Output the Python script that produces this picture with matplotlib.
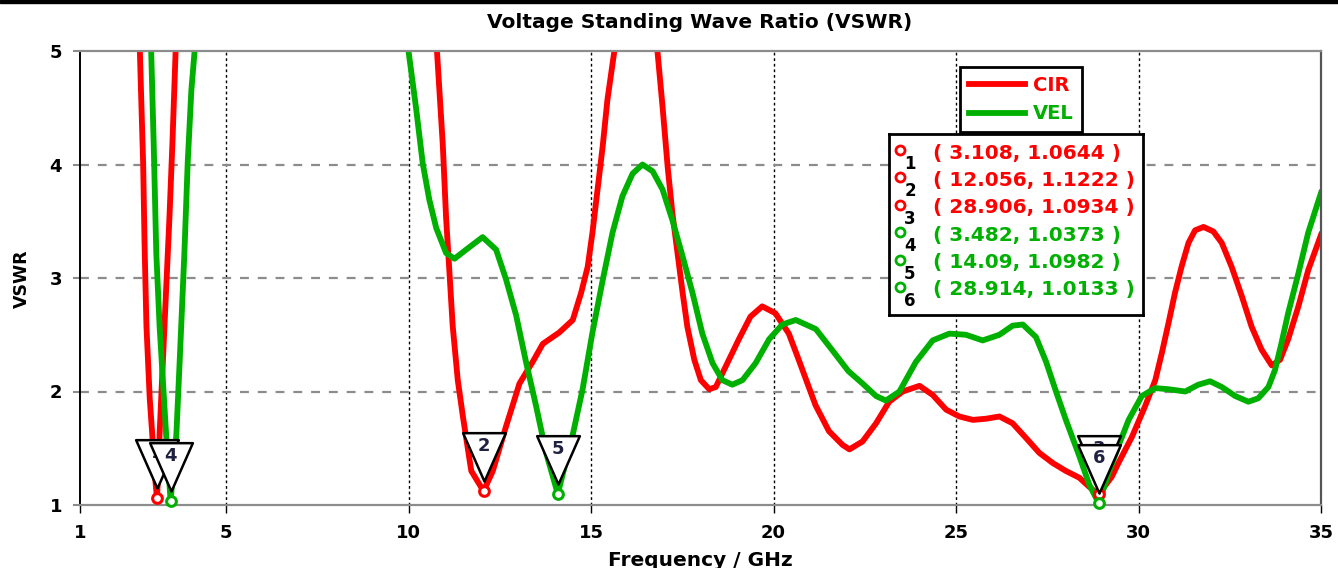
import matplotlib
matplotlib.use("Agg")
import matplotlib.pyplot as plt
from matplotlib.path import Path
from matplotlib.patches import Rectangle

# ------------------------------
# Daten
# ------------------------------
# CIR: Frequenz / GHz und VSWR (Werte > 5 liegen ausserhalb des Bildes)
cir_f = [2.55, 2.64, 2.68, 2.73, 2.77, 2.82, 2.91, 2.98, 3.04, 3.108, 3.15, 3.18,
         3.27, 3.36, 3.45, 3.53, 3.62, 3.68,
         10.70, 10.78, 10.94, 11.03, 11.12, 11.21, 11.35, 11.49, 11.72, 12.056,
         12.31, 12.67, 13.04, 13.40, 13.68, 14.13, 14.50, 14.73, 14.91, 15.04,
         15.18, 15.32, 15.45, 15.64, 16.20, 16.82, 16.96, 17.10, 17.23, 17.37,
         17.51, 17.64, 17.83, 18.01, 18.24, 18.42, 18.69, 19.05, 19.37, 19.69,
         20.05, 20.42, 20.69, 21.15, 21.52, 21.89, 22.08, 22.44, 22.81, 23.17,
         23.54, 24.00, 24.36, 24.73, 25.09, 25.46, 25.82, 26.19, 26.55, 26.92,
         27.28, 27.65, 28.01, 28.38, 28.65, 28.906, 29.27, 29.45, 29.82, 30.18,
         30.46, 30.64, 30.82, 31.00, 31.18, 31.37, 31.55, 31.78, 32.05, 32.28,
         32.55, 32.83, 33.10, 33.37, 33.65, 33.88, 34.10, 34.38, 34.65, 35.00]
cir_v = [5.6, 5.0, 4.55, 4.01, 3.28, 2.58, 1.94, 1.62, 1.30, 1.0644, 1.30, 1.62,
         2.26, 2.90, 3.53, 4.17, 5.0, 5.6,
         5.6, 5.0, 4.17, 3.53, 3.06, 2.58, 2.10, 1.78, 1.30, 1.1222,
         1.30, 1.69, 2.07, 2.26, 2.42, 2.52, 2.63, 2.87, 3.10, 3.40,
         3.78, 4.16, 4.57, 5.0, 6.5, 5.0, 4.51, 3.98, 3.57, 3.22,
         2.87, 2.57, 2.28, 2.10, 2.02, 2.04, 2.22, 2.46, 2.66, 2.75,
         2.69, 2.51, 2.28, 1.88, 1.65, 1.53, 1.49, 1.56, 1.72, 1.91,
         2.00, 2.05, 1.97, 1.84, 1.78, 1.75, 1.76, 1.78, 1.72, 1.59,
         1.46, 1.37, 1.30, 1.24, 1.16, 1.0934, 1.25, 1.37, 1.60, 1.87,
         2.10, 2.34, 2.60, 2.87, 3.10, 3.31, 3.42, 3.45, 3.41, 3.31,
         3.10, 2.84, 2.57, 2.37, 2.23, 2.28, 2.46, 2.75, 3.07, 3.38]

# VEL
vel_f = [2.90, 2.95, 3.02, 3.09, 3.18, 3.27, 3.36, 3.482, 3.64, 3.73, 3.86, 3.95,
         4.05, 4.14, 4.20,
         9.95, 10.00, 10.21, 10.39, 10.57, 10.76, 11.03, 11.26, 11.58, 12.03,
         12.40, 12.67, 12.95, 13.22, 13.49, 13.77, 14.09, 14.50, 14.77, 15.04,
         15.32, 15.59, 15.86, 16.14, 16.41, 16.69, 16.96, 17.23, 17.51, 17.78,
         18.05, 18.33, 18.60, 18.87, 19.15, 19.51, 19.88, 20.24, 20.61, 21.16,
         21.62, 22.05, 22.44, 22.81, 23.08, 23.45, 23.90, 24.36, 24.82, 25.27,
         25.73, 26.19, 26.55, 26.83, 27.19, 27.47, 27.74, 28.01, 28.38, 28.65,
         28.914, 29.18, 29.45, 29.73, 30.09, 30.46, 30.82, 31.28, 31.64, 31.96,
         32.28, 32.65, 33.01, 33.28, 33.56, 33.74, 33.92, 34.10, 34.38, 34.65,
         35.00]
vel_v = [5.6, 5.0, 4.17, 3.22, 2.58, 2.10, 1.62, 1.0373, 1.62, 2.26, 3.22, 4.01,
         4.65, 5.0, 5.6,
         5.3, 5.0, 4.49, 4.01, 3.69, 3.44, 3.22, 3.17, 3.25, 3.36,
         3.25, 2.99, 2.67, 2.26, 1.88, 1.46, 1.0982, 1.62, 2.02, 2.52,
         2.98, 3.40, 3.72, 3.92, 4.00, 3.94, 3.78, 3.51, 3.19, 2.87,
         2.51, 2.25, 2.10, 2.06, 2.10, 2.25, 2.46, 2.59, 2.63, 2.55,
         2.36, 2.18, 2.07, 1.96, 1.92, 2.00, 2.26, 2.45, 2.51, 2.50,
         2.45, 2.50, 2.58, 2.59, 2.48, 2.26, 2.00, 1.75, 1.43, 1.18,
         1.0133, 1.28, 1.52, 1.75, 1.96, 2.03, 2.02, 2.00, 2.06, 2.09,
         2.04, 1.96, 1.91, 1.94, 2.04, 2.19, 2.43, 2.69, 3.04, 3.40,
         3.75]

# Marker 1..6
marker_f = [3.108, 12.056, 28.906, 3.482, 14.09, 28.914]
marker_v = [1.0644, 1.1222, 1.0934, 1.0373, 1.0982, 1.0133]
marker_col = ["#ff0000", "#ff0000", "#ff0000", "#00b000", "#00b000", "#00b000"]

x_ticks = [1, 5, 10, 15, 20, 25, 30, 35]
y_ticks = [1, 2, 3, 4, 5]

RED = "#ff0000"
GREEN = "#00b000"
W, H = 1338, 568


def fx(px):
    return px / W


def fy(py):
    return 1 - py / H


fig = plt.figure(figsize=(W / 100, H / 100), dpi=100)
ax = fig.add_axes([fx(80), fy(505), fx(1321) - fx(80), fy(51) - fy(505)])

l_cir, = ax.plot(cir_f, cir_v, color=RED, lw=4.2, label="CIR", zorder=2,
                 solid_joinstyle="round")
l_vel, = ax.plot(vel_f, vel_v, color=GREEN, lw=4.2, label="VEL", zorder=2.1,
                 solid_joinstyle="round")

ax.set_xlim(1, 35)
ax.set_ylim(1, 5)
ax.set_xticks(x_ticks)
ax.set_yticks(y_ticks)

# Gitter
for x in x_ticks[1:-1]:
    ax.axvline(x, color="black", lw=1.0, ls=(0, (2, 2)), zorder=1)
for y in y_ticks[1:-1]:
    ax.axhline(y, color="#8c8c8c", lw=1.6, ls=(0, (4, 4)), zorder=1)

for s in ["top", "bottom"]:
    ax.spines[s].set_color("#8c8c8c")
    ax.spines[s].set_linewidth(1.6)
ax.spines["right"].set_color("#555555")
ax.spines["right"].set_linewidth(1.6)
ax.spines["left"].set_color("black")
ax.spines["left"].set_linewidth(1.4)

ax.tick_params(axis="y", length=5, width=1.5, color="#8c8c8c", pad=8,
               labelsize=13)
ax.tick_params(axis="x", length=6, width=1.0, color="black", pad=8,
               labelsize=13)
for lab in ax.get_xticklabels() + ax.get_yticklabels():
    lab.set_fontweight("bold")

# Marker: Kreise + Dreiecke
tri = Path([(0, 10), (-21.5, 58.7), (21.5, 58.7), (0, 10)],
           [Path.MOVETO, Path.LINETO, Path.LINETO, Path.CLOSEPOLY])
for i, (f, v, c) in enumerate(zip(marker_f, marker_v, marker_col)):
    ax.plot(f, v, marker="o", ms=7, mfc="white", mec=c, mew=2.2, zorder=3,
            clip_on=False)
    ax.plot(f, v, marker=tri, ms=84, mfc="white", mec="black", mew=1.8,
            zorder=4 + 2 * i, clip_on=False)
    ax.annotate(str(i + 1), (f, v), xytext=(0, 32.5), textcoords="offset points",
                ha="center", va="center", fontsize=13, fontweight="bold",
                color="#202040", zorder=5 + 2 * i)

# Legende
leg = ax.legend(handles=[l_cir, l_vel], loc="upper left",
                bbox_to_anchor=(fx(960), fy(67)), bbox_transform=fig.transFigure,
                borderaxespad=0, borderpad=0.45, handlelength=2.9,
                handletextpad=0.4, labelspacing=0.5, fancybox=False,
                edgecolor="black", framealpha=1, labelcolor="linecolor",
                prop={"weight": "bold", "size": 14})
leg.get_frame().set_linewidth(2)
leg.set_zorder(20)

# Marker-Tabelle
tax = fig.add_axes([fx(889), fy(315), fx(1143) - fx(889), fy(134) - fy(315)])
tax.set_xlim(889, 1143)
tax.set_ylim(315, 134)
tax.set_xticks([])
tax.set_yticks([])
for s in tax.spines.values():
    s.set_linewidth(2)
    s.set_color("black")
for i, (f, v, c) in enumerate(zip(marker_f, marker_v, marker_col)):
    yrow = 153 + 27.4 * i
    tax.plot(900, yrow - 3, marker="o", ms=6.5, mfc="white", mec=c, mew=2)
    tax.text(910, yrow + 11, str(i + 1), fontsize=12, fontweight="bold",
             color="black", ha="center", va="center")
    tax.text(933, yrow, f"( {f}, {v} )", fontsize=14.5, fontweight="bold",
             color=c, ha="left", va="center")

# Texte
fig.text(fx(700), fy(22), "Voltage Standing Wave Ratio (VSWR)", ha="center",
         va="center", fontsize=14.5, fontweight="bold")
fig.text(fx(700), fy(551), "Frequency / GHz", ha="center", va="top",
         fontsize=14.5, fontweight="bold")
fig.text(fx(22), fy(279), "VSWR", ha="center", va="center", rotation=90,
         fontsize=12.5, fontweight="bold")

# schwarzer Rand oben
fig.patches.append(Rectangle((0, fy(3)), 1, 3 / H, transform=fig.transFigure,
                             color="black"))

fig.savefig("out.png", dpi=100)
